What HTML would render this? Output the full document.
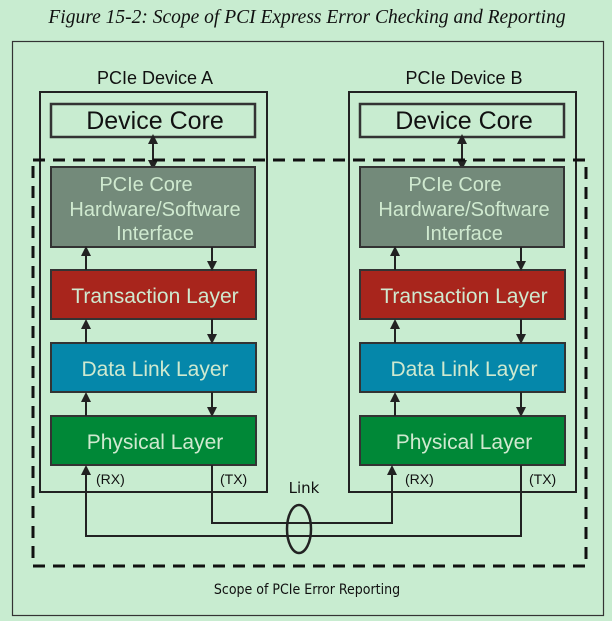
<!DOCTYPE html>
<html><head><style>
html,body{margin:0;padding:0;background:#c8ecd0;}
svg{display:block;}
.t{font-family:"Liberation Sans",sans-serif;}
</style></head><body>
<svg width="612" height="621" viewBox="0 0 612 621" xmlns="http://www.w3.org/2000/svg">
<defs>
<marker id="ah" markerWidth="10" markerHeight="10" refX="5" refY="5" orient="auto-start-reverse" markerUnits="userSpaceOnUse">
<path d="M0,0 L10,5 L0,10 z" fill="#222"/></marker>
</defs>
<rect width="612" height="621" fill="#c8ecd0"/>
<text x="307" y="23" text-anchor="middle" font-family="Liberation Serif,serif" font-style="italic" font-size="19.5" fill="#111">Figure 15-2: Scope of PCI Express Error Checking and Reporting</text>
<rect x="12.5" y="41.5" width="591" height="574" fill="none" stroke="#333" stroke-width="1.2"/>
<g class="t" font-size="18" fill="#111" text-anchor="middle">
<text x="155" y="84">PCIe Device A</text>
<text x="464" y="84">PCIe Device B</text>
</g>
<g id="dev" fill="none">
<rect x="40" y="92" width="227" height="400" stroke="#222" stroke-width="2"/>
<rect x="51" y="104" width="204" height="33" stroke="#333" stroke-width="2.5" fill="#c8ecd0"/>
<text x="155" y="129" text-anchor="middle" class="t" font-size="25" fill="#111">Device Core</text>
<line x1="153" y1="139" x2="153" y2="165" stroke="#222" stroke-width="2" marker-start="url(#ah)" marker-end="url(#ah)"/>
<rect x="51" y="167" width="204" height="80" fill="#738a7a" stroke="#333" stroke-width="2"/>
<g class="t" font-size="20" fill="#cfe9cf" text-anchor="middle">
<text x="146" y="191">PCIe Core</text>
<text x="155" y="216">Hardware/Software</text>
<text x="155" y="240">Interface</text></g>
<rect x="51" y="270" width="205" height="49" fill="#a8251c" stroke="#333" stroke-width="2"/>
<text x="155" y="303" text-anchor="middle" class="t" font-size="21" fill="#cfe9cf">Transaction Layer</text>
<rect x="51" y="343" width="205" height="49" fill="#0587aa" stroke="#333" stroke-width="2"/>
<text x="155" y="376" text-anchor="middle" class="t" font-size="21" fill="#cfe9cf">Data Link Layer</text>
<rect x="51" y="416" width="205" height="49" fill="#008837" stroke="#333" stroke-width="2"/>
<text x="155" y="449" text-anchor="middle" class="t" font-size="21" fill="#cfe9cf">Physical Layer</text>
<g stroke="#222" stroke-width="2">
<line x1="86" y1="270" x2="86" y2="251" marker-end="url(#ah)"/>
<line x1="86" y1="343" x2="86" y2="324" marker-end="url(#ah)"/>
<line x1="86" y1="416" x2="86" y2="397" marker-end="url(#ah)"/>
<line x1="212" y1="247" x2="212" y2="266" marker-end="url(#ah)"/>
<line x1="212" y1="319" x2="212" y2="339" marker-end="url(#ah)"/>
<line x1="212" y1="392" x2="212" y2="412" marker-end="url(#ah)"/>
</g>
<g class="t" font-size="14" fill="#111"><text x="96" y="484">(RX)</text><text x="220" y="484">(TX)</text></g>
</g>
<use href="#dev" x="309"/>
<rect x="33" y="160" width="553" height="406" fill="none" stroke="#111" stroke-width="3" stroke-dasharray="12,8"/>
<g fill="none" stroke="#222" stroke-width="2">
<polyline points="212,465 212,523 392,523 392,470" marker-end="url(#ah)"/>
<polyline points="521,465 521,536 86,536 86,470" marker-end="url(#ah)"/>
<ellipse cx="299" cy="529" rx="12" ry="24" stroke-width="2.5"/>
</g>
<text x="304" y="493" text-anchor="middle" font-family="DejaVu Sans,sans-serif" font-size="15" fill="#111">Link</text>
<text x="307" y="594" text-anchor="middle" font-family="DejaVu Sans Condensed,DejaVu Sans,sans-serif" font-size="14" fill="#111">Scope of PCIe Error Reporting</text>
</svg>
</body></html>
